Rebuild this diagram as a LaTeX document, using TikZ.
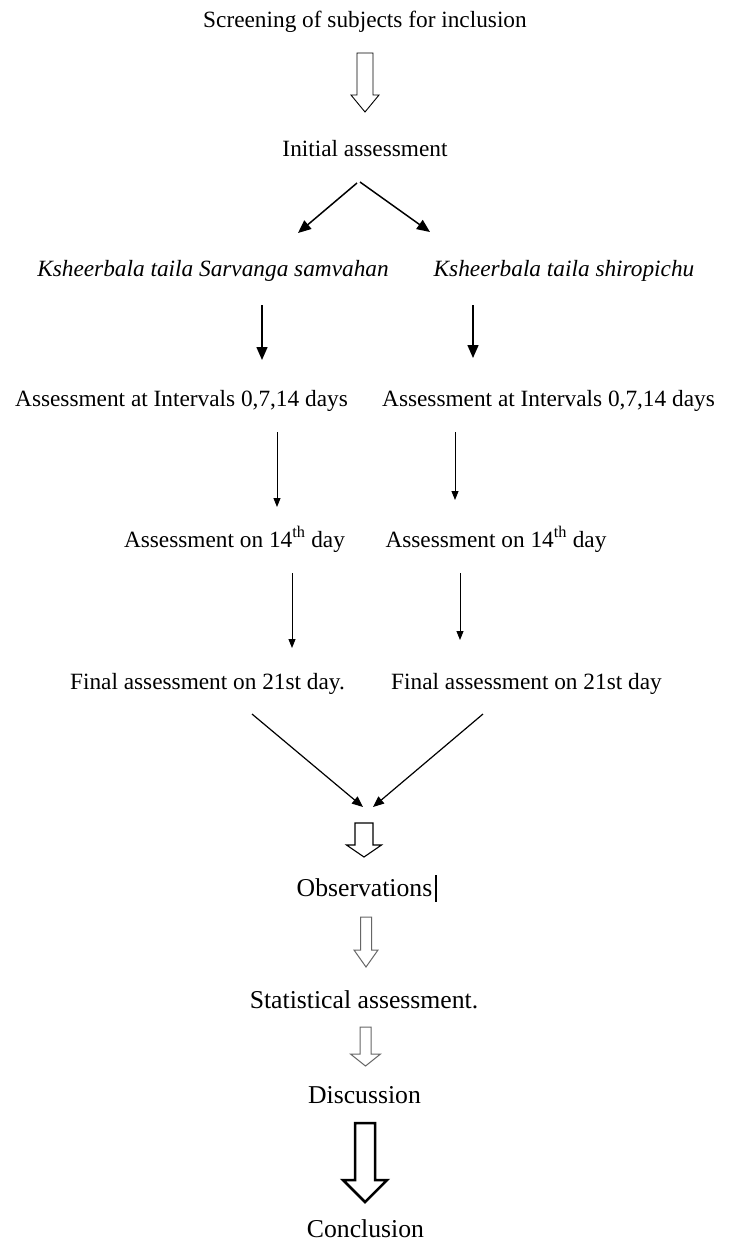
\documentclass[tikz,border=0pt]{standalone}
\usepackage{fontspec}
\setmainfont{Liberation Serif}
\usetikzlibrary{arrows.meta,calc}
\tikzset{
  pics/hollow/.style n args={4}{code={
    \draw[pic actions,line join=miter] (-#1,0) -- (-#1,#3) -- (-#2,#3) -- (0,#4) -- (#2,#3) -- (#1,#3) -- (#1,0) -- cycle;}},
  lbl/.style={anchor=base,inner sep=0pt,font=\fontsize{23.3}{28}\selectfont},
  lbli/.style={anchor=base,inner sep=0pt,font=\fontsize{23.3}{28}\selectfont\itshape},
  lblb/.style={anchor=base,inner sep=0pt,font=\fontsize{25.7}{30}\selectfont},
  arrA/.style={line width=1.5pt,-{Triangle[length=13pt,width=11pt]}},
  arrB/.style={line width=0.9pt,-{Triangle[length=9pt,width=7pt]}},
  arrC/.style={line width=1.2pt,-{Triangle[length=11pt,width=9pt]}},
  hol/.style={draw=black,line width=0.9pt},
  holg/.style={draw=black!60,line width=1pt},
  holt/.style={draw=black,line width=2.5pt}
}
\begin{document}
\begin{tikzpicture}[x=1pt,y=-1pt]
\useasboundingbox[fill=white] (0,0) rectangle (729,1243);
% texts
\node[lbl] (scr) at (365,27) {Screening of subjects for inclusion};
\node[lbl] (init) at (365,156) {Initial assessment};
\node[lbli] (ks1) at (213,276) {Ksheerbala taila Sarvanga samvahan};
\node[lbli] (ks2) at (564,276) {Ksheerbala taila shiropichu};
\node[lbl] (int1) at (181.5,406) {Assessment at Intervals 0,7,14 days};
\node[lbl] (int2) at (548.5,406) {Assessment at Intervals 0,7,14 days};
\node[lbl] (d14a) at (234.5,547) {Assessment on 14\textsuperscript{th} day};
\node[lbl] (d14b) at (496,547) {Assessment on 14\textsuperscript{th} day};
\node[lbl] (fin1) at (207.5,689) {Final assessment on 21st day.};
\node[lbl] (fin2) at (526.5,689) {Final assessment on 21st day};
\node[lblb] (obs) at (364.5,896) {Observations};
\node[lblb] (stat) at (364,1008) {Statistical assessment.};
\node[lblb] (disc) at (364.5,1103) {Discussion};
\node[lblb] (concl) at (365.5,1237.5) {Conclusion};
% hollow arrows
\pic[hol] at ($(scr.base)+(0,26)$) {hollow={8}{14}{42}{59}};
\pic[hol,line width=1.1pt] at ($(obs.base)+(-0.5,-73)$) {hollow={9}{17.5}{22}{34}};
\pic[holg] at ($(obs.base)+(1.5,21)$) {hollow={5.5}{12}{33}{50}};
\pic[holg] at ($(stat.base)+(1.5,19)$) {hollow={5.5}{15}{27}{39}};
\pic[holt] at ($(disc.base)+(0.5,20)$) {hollow={10}{22}{57}{79}};
% connectors
\draw[arrA] ($(init.base)+(-8,27)$) -- ($(ks1.base)+(85,-43)$);
\draw[arrA] ($(init.base)+(-5,26)$) -- ($(ks2.base)+(-134,-44)$);
\draw[arrA] ($(ks1.base)+(49,29)$) -- ($(int1.base)+(80.5,-46)$);
\draw[arrA] ($(ks2.base)+(-91,29)$) -- ($(int2.base)+(-75.5,-48)$);
\draw[arrB] ($(int1.base)+(95.5,26)$) -- ($(d14a.base)+(42.5,-40)$);
\draw[arrB] ($(int2.base)+(-93.5,26)$) -- ($(d14b.base)+(-41,-47)$);
\draw[arrB] ($(d14a.base)+(57.5,26)$) -- ($(fin1.base)+(84.5,-41)$);
\draw[arrB] ($(d14b.base)+(-36,26)$) -- ($(fin2.base)+(-66.5,-49)$);
\draw[arrC] ($(fin1.base)+(44.5,25)$) -- ($(obs.base)+(-1.5,-89)$);
\draw[arrC] ($(fin2.base)+(-43.5,25)$) -- ($(obs.base)+(8.5,-89)$);
% text cursor mark
\draw[line width=2pt] ($(obs.base)+(71.5,-21)$) -- ($(obs.base)+(71.5,6)$);
\end{tikzpicture}
\end{document}
